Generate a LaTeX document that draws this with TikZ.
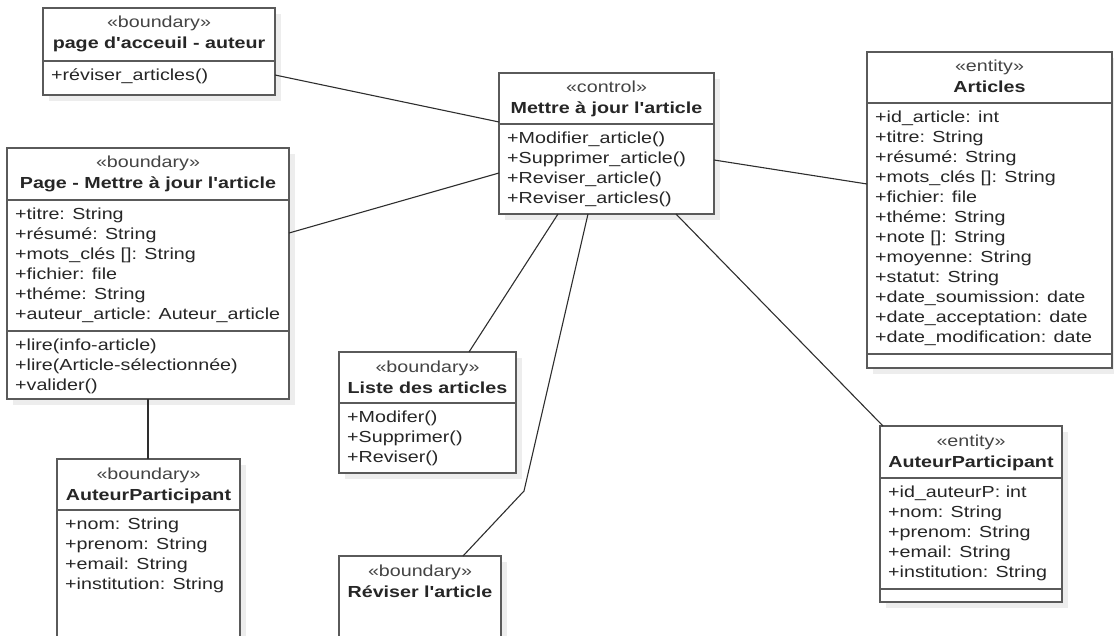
\documentclass[tikz,border=0pt]{standalone}
\usepackage{fontspec}
\setmainfont{Liberation Sans}[FakeStretch=1.23, Ligatures=TeXOff]
\usetikzlibrary{calc,shadows}

\definecolor{boxline}{HTML}{5A5A5A}
\definecolor{wire}{HTML}{2E2E2E}
\definecolor{ink}{HTML}{262626}
\definecolor{stereo}{HTML}{444444}
\definecolor{shade}{HTML}{EDEDED}

\newcommand\umlfont{\fontsize{16bp}{20bp}\selectfont}

\tikzset{
  classbox/.style={draw=boxline, line width=1.6bp, fill=white, anchor=north west,
    inner sep=0, outer sep=0,
    drop shadow={shadow xshift=6bp, shadow yshift=-6bp, fill=shade, opacity=1}},
  member/.style={anchor=base west, inner sep=0, font=\umlfont, text=ink},
  stereotype/.style={anchor=base, inner sep=0, font=\umlfont, text=stereo},
  classname/.style={anchor=base, inner sep=0, font=\umlfont\bfseries, text=ink},
  divider/.style={draw=boxline, line width=1.6bp},
  link/.style={draw=wire, line width=1.1bp},
}

% class header: stereotype and name
\newcommand\classhead[3]{%
  \node[stereotype] (#1-st) at ($(#1.north)+(0,20)$) {«#2»};
  \node[classname] (#1-nm) at ($(#1.north)+(0,41)$) {#3};}
% horizontal compartment divider, offset from the top of the class
\newcommand\classdiv[2]{%
  \draw[divider] ($(#1.north west)+(0,#2)$) -- ($(#1.north east)+(0,#2)$);}
% list of members, one per line, first baseline offset from the top
\newcommand\classrows[4]{%
  \foreach \mtext [count=\i] in {#4}
    \node[member] (#1-#2\i) at ($(#1.north west)+(8,{#3+20*(\i-1)})$) {\mtext};}

\begin{document}
\begin{tikzpicture}[x=1bp, y=-1bp]
\useasboundingbox (0,0) rectangle (1114,636);
\clip (0,0) rectangle (1114,636);

% ---- page d'acceuil - auteur
\node[classbox, minimum width=232bp, minimum height=87bp] (acc) at (43,8) {};
\classhead{acc}{boundary}{page d'acceuil - auteur}
\classdiv{acc}{53}
\classrows{acc}{op}{72.5}{+réviser\_articles()}

% ---- Page - Mettre à jour l'article
\node[classbox, minimum width=282bp, minimum height=251bp] (page) at (7,148) {};
\classhead{page}{boundary}{Page - Mettre à jour l'article}
\classdiv{page}{52}
\classdiv{page}{183}
\classrows{page}{at}{71.5}{+titre: String,+résumé: String,+mots\_clés []: String,+fichier: file,+théme: String,+auteur\_article: Auteur\_article}
\classrows{page}{op}{202.5}{+lire(info-article),+lire(Article-sélectionnée),+valider()}

% ---- control: Mettre à jour l'article
\node[classbox, minimum width=215bp, minimum height=141bp] (ctrl) at (499,73) {};
\classhead{ctrl}{control}{Mettre à jour l'article}
\classdiv{ctrl}{51}
\classrows{ctrl}{op}{70.5}{+Modifier\_article(),+Supprimer\_article(),+Reviser\_article(),+Reviser\_articles()}

% ---- entity: Articles
\node[classbox, minimum width=245bp, minimum height=316bp] (art) at (867,52) {};
\classhead{art}{entity}{Articles}
\classdiv{art}{51}
\classdiv{art}{302}
\classrows{art}{at}{70.5}{+id\_article: int,+titre: String,+résumé: String,+mots\_clés []: String,+fichier: file,+théme: String,+note []: String,+moyenne: String,+statut: String,+date\_soumission: date,+date\_acceptation: date,+date\_modification: date}

% ---- boundary: AuteurParticipant
\node[classbox, minimum width=183bp, minimum height=200bp] (apb) at (57,459) {};
\classhead{apb}{boundary}{AuteurParticipant}
\classdiv{apb}{51}
\classrows{apb}{at}{70.5}{+nom: String,+prenom: String,+email: String,+institution: String}

% ---- boundary: Liste des articles
\node[classbox, minimum width=177bp, minimum height=121bp] (liste) at (339,352) {};
\classhead{liste}{boundary}{Liste des articles}
\classdiv{liste}{51}
\classrows{liste}{op}{70.5}{+Modifer(),+Supprimer(),+Reviser()}

% ---- boundary: Réviser l'article
\node[classbox, minimum width=162bp, minimum height=120bp] (rev) at (339,556) {};
\classhead{rev}{boundary}{Réviser l'article}

% ---- entity: AuteurParticipant
\node[classbox, minimum width=182bp, minimum height=176bp] (ape) at (880,426) {};
\classhead{ape}{entity}{AuteurParticipant}
\classdiv{ape}{52}
\classdiv{ape}{163}
\classrows{ape}{at}{71.5}{+id\_auteurP: int,+nom: String,+prenom: String,+email: String,+institution: String}

% ---- associations
\coordinate (bend) at (524,491);
\draw[link] ($(acc.north east)+(0,67)$) -- ($(ctrl.north west)+(0,49)$);
\draw[link] ($(page.north east)+(0,85)$) -- ($(ctrl.north west)+(0,100)$);
\draw[link] ($(ctrl.north east)+(0,87)$) -- ($(art.north west)+(0,132)$);
\draw[link] ($(ctrl.south west)+(59,0)$) -- ($(liste.north west)+(130,0)$);
\draw[link] ($(ctrl.south west)+(89,0)$) -- (bend) -- ($(rev.north west)+(124,0)$);
\draw[link] ($(ctrl.south west)+(177,0)$) -- ($(ape.north west)+(3,0)$);
\draw[link] ($(page.south west)+(141,0)$) -- ($(apb.north west)+(91,0)$);
\end{tikzpicture}
\end{document}
